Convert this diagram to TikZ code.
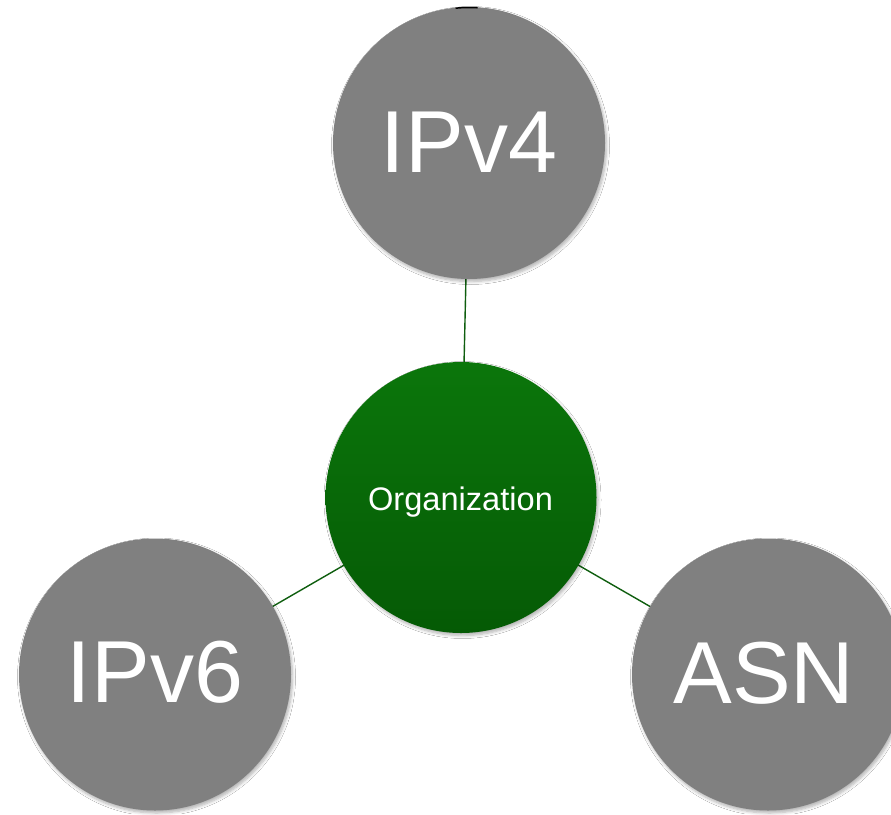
\documentclass[tikz,border=0pt]{standalone}
\usepackage{fontspec}
\setmainfont{Liberation Sans}
\usetikzlibrary{shadows.blur}
\definecolor{bubblegray}{HTML}{808080}
\definecolor{orgtop}{HTML}{0B760B}
\definecolor{orgbot}{HTML}{055A05}
\definecolor{linkgreen}{HTML}{0F5E0F}
\begin{document}
\begin{tikzpicture}[x=1pt,y=-1pt,
  bubble/.style={circle, minimum size=272pt, inner sep=0pt, fill=bubblegray,
    blur shadow={shadow xshift=1.5pt, shadow yshift=-2.5pt, shadow blur steps=6, shadow opacity=30, shadow blur radius=3pt}},
  orgbubble/.style={circle, minimum size=271pt, inner sep=0pt, top color=orgtop, bottom color=orgbot,
    blur shadow={shadow xshift=1.5pt, shadow yshift=-2.5pt, shadow blur steps=6, shadow opacity=30, shadow blur radius=3pt}},
  bigtext/.style={anchor=base, inner sep=0pt, text=white, font=\fontsize{88}{88}\selectfont},
  orgtext/.style={anchor=base, inner sep=0pt, text=white, font=\fontsize{32.6}{32.6}\selectfont},
  link/.style={draw=linkgreen, line width=1.4pt}]
\useasboundingbox (0,0) rectangle (891,814);
\clip (0,0) rectangle (891,814);
\fill[white] (0,0) rectangle (891,814);
% connectors (behind the bubbles)
\coordinate (cv4) at (469,143);
\coordinate (corg) at (461,497.5);
\coordinate (cv6) at (155,674.5);
\coordinate (casn) at (768,674.5);
\draw[link] (cv4) -- (corg);
\draw[link] (cv6) -- (corg);
\draw[link] (casn) -- (corg);
% bubbles
\node[bubble] (ipv4) at (cv4) {};
\node[bubble] (ipv6) at (cv6) {};
\node[bubble] (asn) at (casn) {};
\node[orgbubble] (org) at (corg) {};
\draw[black, line width=1.5pt] (ipv4.center) ++(264.3:135.5) arc[start angle=264.3, end angle=273.6, radius=135.5];
% labels
\node[bigtext] (t4) at (469,172) {IPv4};
\node[bigtext] (t6) at (155,702) {IPv6};
\node[bigtext] (tasn) at (764,703) {ASN};
\node[orgtext] (torg) at (460.5,510) {Organization};
\end{tikzpicture}
\end{document}
